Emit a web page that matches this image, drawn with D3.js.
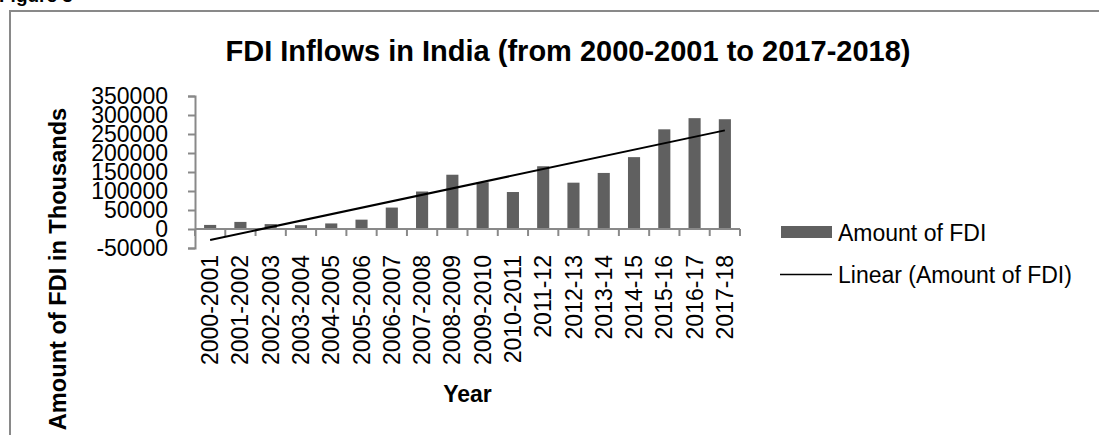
<!DOCTYPE html>
<html>
<head>
<meta charset="utf-8">
<script src="https://cdn.jsdelivr.net/npm/d3@7"></script>
<style>
	body { margin: 0; background: #fff; overflow: hidden; }
	svg { display: block; font-family: "Liberation Sans", Arial, sans-serif; }
</style>
</head>
<body>
<div id="chart"></div>
<script>
// data (Rs crore, shown as "thousands" on the axis)
var years = ["2000-2001", "2001-2002", "2002-2003", "2003-2004", "2004-2005", "2005-2006",
	"2006-2007", "2007-2008", "2008-2009", "2009-2010", "2010-2011", "2011-12",
	"2012-13", "2013-14", "2014-15", "2015-16", "2016-17", "2017-18"];
var fdiAmount = [10733, 18654, 12871, 10064, 14653, 24584, 56390, 98642, 142829,
	123120, 97320, 165146, 121907, 147518, 189107, 262322, 291696, 288889];
var yTicks = [-50000, 0, 50000, 100000, 150000, 200000, 250000, 300000, 350000];
var yTickLabels = ["-50000", "0", "50000", "100000", "150000", "200000", "250000", "300000", "350000"];
var legendLabels = ["Amount of FDI", "Linear (Amount of FDI)"];

(function (){
	"use strict";

var width = 1099,
	height = 435,
	left = 195,
	right = 740,
	top = 96,
	bottom = 248;

var axisGrey = "#898989",
	barGrey = "#606060";

var svg = d3.select("#chart").append("svg")
	.attr("width", width)
	.attr("height", height);

// frame + the clipped "Figure 3" caption above it
svg.append("text")
	.attr("x", -1)
	.attr("y", 2)
	.style("font-size", "19px")
	.style("font-weight", "bold")
	.text("Figure 3");

svg.append("path")
	.attr("d", "M10,435V11H1099")
	.style("fill", "none")
	.style("stroke", axisGrey)
	.style("stroke-width", 2);

svg.append("text")
	.attr("x", 568)
	.attr("y", 61)
	.attr("text-anchor", "middle")
	.style("font-size", "29px")
	.style("font-weight", "bold")
	.text("FDI Inflows in India (from 2000-2001 to 2017-2018)");

var x = d3.scaleBand()
	.domain(years)
	.range([left, right]);

var y = d3.scaleLinear()
	.domain([-50000, 350000])
	.range([bottom, top]);

var barW = x.bandwidth() * 0.4;

// bars
svg.append("g")
	.selectAll("rect").data(fdiAmount)
	.enter().append("rect")
		.attr("x", function(d, i){ return x(years[i]) + (x.bandwidth() - barW) / 2; })
		.attr("y", function(d){ return y(d); })
		.attr("width", barW)
		.attr("height", function(d){ return y(0) - y(d); })
		.style("fill", barGrey);

// y axis
var yAxis = svg.append("g")
	.attr("transform", "translate(" + left + ",0)")
	.call(d3.axisLeft(y)
		.tickValues(yTicks)
		.tickFormat(function(d, i){ return yTickLabels[i]; })
		.tickSize(7)
		.tickSizeOuter(7)
		.tickPadding(20));
yAxis.selectAll("path, line").style("stroke", axisGrey).style("stroke-width", 2);
yAxis.selectAll("text")
	.style("font-size", "23px")
	.style("font-family", "Liberation Sans, Arial, sans-serif")
	.style("fill", "#000");

// x axis line at zero, ticks on the category boundaries
var xAxis = svg.append("g");
xAxis.append("line")
	.attr("x1", left).attr("x2", right)
	.attr("y1", y(0)).attr("y2", y(0))
	.style("stroke", axisGrey)
	.style("stroke-width", 2);
xAxis.selectAll(".xtick").data(years.concat(["end"]))
	.enter().append("line")
		.attr("class", "xtick")
		.attr("x1", function(d){ return d === "end" ? right : x(d); })
		.attr("x2", function(d){ return d === "end" ? right : x(d); })
		.attr("y1", y(0))
		.attr("y2", y(0) + 7)
		.style("stroke", axisGrey)
		.style("stroke-width", 2);

xAxis.selectAll(".xlabel").data(years)
	.enter().append("text")
		.attr("class", "xlabel")
		.attr("transform", function(d){
			return "translate(" + (x(d) + x.bandwidth() / 2) + ",255) rotate(-90)";
		})
		.attr("dy", "0.35em")
		.attr("text-anchor", "end")
		.style("font-size", "23px")
		.text(function(d){ return d; });

// linear trendline (least squares on 1..n like excel)
var n = fdiAmount.length,
	mx = d3.mean(fdiAmount, function(d, i){ return i + 1; }),
	my = d3.mean(fdiAmount),
	sxy = d3.sum(fdiAmount, function(d, i){ return (i + 1 - mx) * (d - my); }),
	sxx = d3.sum(fdiAmount, function(d, i){ return (i + 1 - mx) * (i + 1 - mx); }),
	slope = sxy / sxx,
	icpt = my - slope * mx;

var trend = [0, n - 1].map(function(i){ return [years[i], icpt + slope * (i + 1)]; });

svg.append("path")
	.datum(trend)
	.attr("d", d3.line()
		.x(function(d){ return x(d[0]) + x.bandwidth() / 2; })
		.y(function(d){ return y(d[1]); }))
	.style("fill", "none")
	.style("stroke", "#000")
	.style("stroke-width", 2);

// axis titles
svg.append("text")
	.attr("x", (left + right) / 2)
	.attr("y", 402)
	.attr("text-anchor", "middle")
	.style("font-size", "23px")
	.style("font-weight", "bold")
	.text("Year");

svg.append("text")
	.attr("transform", "translate(66,269) rotate(-90)")
	.attr("text-anchor", "middle")
	.style("font-size", "23.6px")
	.style("font-weight", "bold")
	.text("Amount of FDI in Thousands");

// legend
var legend = svg.append("g");
legend.append("rect")
	.attr("x", 781).attr("y", 226)
	.attr("width", 51).attr("height", 12)
	.style("fill", barGrey);
legend.append("line")
	.attr("x1", 780).attr("x2", 832)
	.attr("y1", 274.5).attr("y2", 274.5)
	.style("stroke", "#000")
	.style("stroke-width", 1.5);
legend.selectAll(".leg").data(legendLabels)
	.enter().append("text")
		.attr("class", "leg")
		.attr("x", 838)
		.attr("y", function(d, i){ return 240.5 + i * 42; })
		.style("font-size", "23px")
		.text(function(d){ return d; });

})();
</script>
</body>
</html>
